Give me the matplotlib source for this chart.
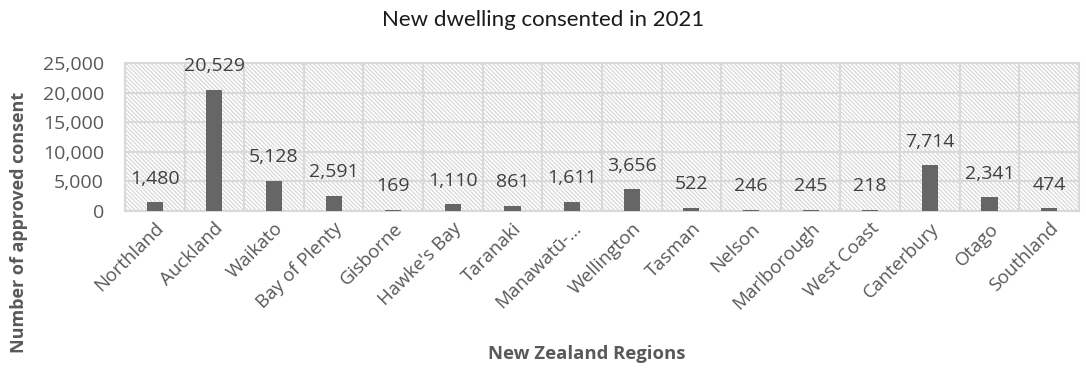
import matplotlib
matplotlib.use("Agg")
import matplotlib.pyplot as plt
from matplotlib.patches import Rectangle
from matplotlib.ticker import FuncFormatter, MultipleLocator

regions = ["Northland", "Auckland", "Waikato", "Bay of Plenty", "Gisborne",
           "Hawke's Bay", "Taranaki", "Manawatū-...", "Wellington", "Tasman",
           "Nelson", "Marlborough", "West Coast", "Canterbury", "Otago",
           "Southland"]
consents = [1480, 20529, 5128, 2591, 169, 1110, 861, 1611, 3656, 522,
            246, 245, 218, 7714, 2341, 474]

plt.rcParams["font.family"] = ["Open Sans", "DejaVu Sans"]
plt.rcParams["hatch.color"] = "#d4d4d4"
plt.rcParams["hatch.linewidth"] = 0.8

fig = plt.figure(figsize=(10.86, 3.69), dpi=100)
ax = fig.add_axes([0.115, 0.428, 0.8785, 0.401])

x = range(len(regions))
ax.set_xlim(-0.5, len(regions) - 0.5)
ax.set_ylim(0, 25000)

# hatched plot area
ax.add_patch(Rectangle((0, 0), 1, 1, transform=ax.transAxes, facecolor="white",
                       edgecolor="#d4d4d4", hatch="\\" * 8, lw=0, zorder=0))

ax.bar(x, consents, width=0.27, color="#666666", zorder=3)

for xi, v in zip(x, consents):
    ax.annotate(f"{v:,}", (xi, v), xytext=(0, 17), textcoords="offset points",
                ha="center", va="center", fontsize=14, color="#404040",
                zorder=4, annotation_clip=False)

ax.yaxis.set_major_locator(MultipleLocator(5000))
ax.yaxis.set_major_formatter(FuncFormatter(lambda v, p: f"{int(v):,}"))
ax.set_xticks(list(x))
ax.set_xticks([i + 0.5 for i in range(-1, len(regions))], minor=True)
ax.set_xticklabels(regions, rotation=45, ha="right", rotation_mode="anchor",
                   fontsize=13.5, color="#595959")
ax.tick_params(axis="x", which="both", length=0, pad=6)
ax.tick_params(axis="y", length=0, labelsize=14, labelcolor="#595959", pad=15)

ax.grid(axis="y", which="major", color="#d9d9d9", lw=1.5, zorder=1)
ax.grid(axis="x", which="minor", color="#d9d9d9", lw=1.5, zorder=1)
ax.grid(axis="x", which="major", visible=False)
for s in ax.spines.values():
    s.set_color("#d9d9d9")
    s.set_linewidth(1.5)

fig.text(0.5, 1 - 20 / 369, "New dwelling consented in 2021", ha="center",
         va="center", fontsize=16, color="#1a1a1a", family=["Lato", "DejaVu Sans"])
fig.text(19 / 1086, 1 - 222 / 369, "Number of approved consent", rotation=90,
         ha="center", va="center", fontsize=13, fontweight="bold", color="#595959")
fig.text(587 / 1086, 1 - 354 / 369, "New Zealand Regions", ha="center",
         va="center", fontsize=13.3, fontweight="bold", color="#595959")

fig.savefig("out.png", dpi=100)
